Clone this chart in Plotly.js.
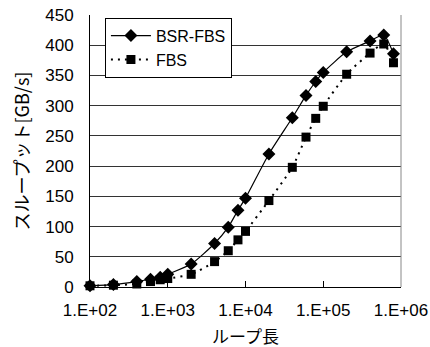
<!DOCTYPE html>
<html>
<head>
<meta charset="utf-8">
<script src="https://cdn.plot.ly/plotly-3.0.1.min.js"></script>
<style>
html, body { margin: 0; padding: 0; background: #fff; }
#chart { width: 430px; height: 347px; }
</style>
</head>
<body>
<div id="chart"></div>
<script>
// Loop length (x) values
const loopLength = [100, 200, 400, 600, 800, 1000, 2000, 4000, 6000, 8000, 10000, 20000, 40000, 60000, 80000, 100000, 200000, 400000, 600000, 800000];
// Throughput [GB/s]
const bsrFbs = [2, 4, 9, 13, 16, 21, 38, 72, 99, 127, 147, 220, 280, 317, 340, 355, 389, 407, 417, 386];
const fbs = [2, 3, 5, 9, 12, 14, 21, 42, 60, 78, 92, 143, 198, 248, 279, 299, 352, 387, 402, 371];
// Tick labels
const xTickVals = [100, 1000, 10000, 100000, 1000000];
const xTickText = ["1.E+02", "1.E+03", "1.E+04", "1.E+05", "1.E+06"];
const seriesNames = ["BSR-FBS", "FBS"];
const xTitle = "ループ長";
const yTitle = "スループット[GB/s]";

const latin = "Liberation Sans, Arial, sans-serif";
const cjk = "Noto Sans CJK JP, sans-serif";

const traces = [
  {
    x: loopLength, y: bsrFbs, name: seriesNames[0], type: "scatter", mode: "lines+markers",
    line: { color: "#000", width: 1.2, shape: "spline", smoothing: 0.6 },
    marker: { symbol: "diamond", size: 10, color: "#000" },
    cliponaxis: false
  },
  {
    x: loopLength, y: fbs, name: seriesNames[1], type: "scatter", mode: "lines+markers",
    line: { color: "#000", width: 2, shape: "spline", smoothing: 0.6, dash: "2px,5px" },
    marker: { symbol: "square", size: 9, color: "#000" },
    cliponaxis: false
  }
];

const layout = {
  width: 430, height: 347,
  margin: { l: 90, r: 29, t: 15, b: 60 },
  paper_bgcolor: "#fff", plot_bgcolor: "#fff",
  font: { family: latin, size: 17, color: "#000" },
  showlegend: true,
  legend: {
    x: 0.048, y: 0.99, xanchor: "left", yanchor: "top",
    bgcolor: "#fff", bordercolor: "#000", borderwidth: 1,
    font: { family: latin, size: 16, color: "#000" },
    itemwidth: 40, tracegroupgap: 0
  },
  xaxis: {
    type: "log", range: [2, 6],
    tickvals: xTickVals, ticktext: xTickText,
    ticks: "inside", ticklen: 6, tickcolor: "#000", tickwidth: 1,
    showgrid: false, zeroline: false,
    showline: true, linecolor: "#000", linewidth: 1,
    tickfont: { family: latin, size: 17, color: "#000" },
    ticklabelstandoff: 8
  },
  yaxis: {
    range: [0, 450], dtick: 50, tick0: 0,
    ticks: "", showgrid: true, gridcolor: "#333", gridwidth: 1,
    zeroline: false, showline: true, linecolor: "#000", linewidth: 1,
    tickfont: { family: latin, size: 17, color: "#000" },
    ticklabelstandoff: 12,
    title: { text: yTitle, font: { family: cjk, size: 18, color: "#000" }, standoff: 10 }
  },
  annotations: [
    { text: xTitle, xref: "paper", yref: "paper", x: 0.5, y: 0, xanchor: "center", yanchor: "middle",
      yshift: -48, showarrow: false, font: { family: cjk, size: 17, color: "#000" } }
  ],
  shapes: [
    { type: "line", xref: "paper", yref: "paper", x0: 1, x1: 1, y0: 0, y1: 1, line: { color: "#888", width: 1 } }
  ]
};

Plotly.newPlot("chart", traces, layout, { displayModeBar: false, staticPlot: true });
</script>
</body>
</html>
